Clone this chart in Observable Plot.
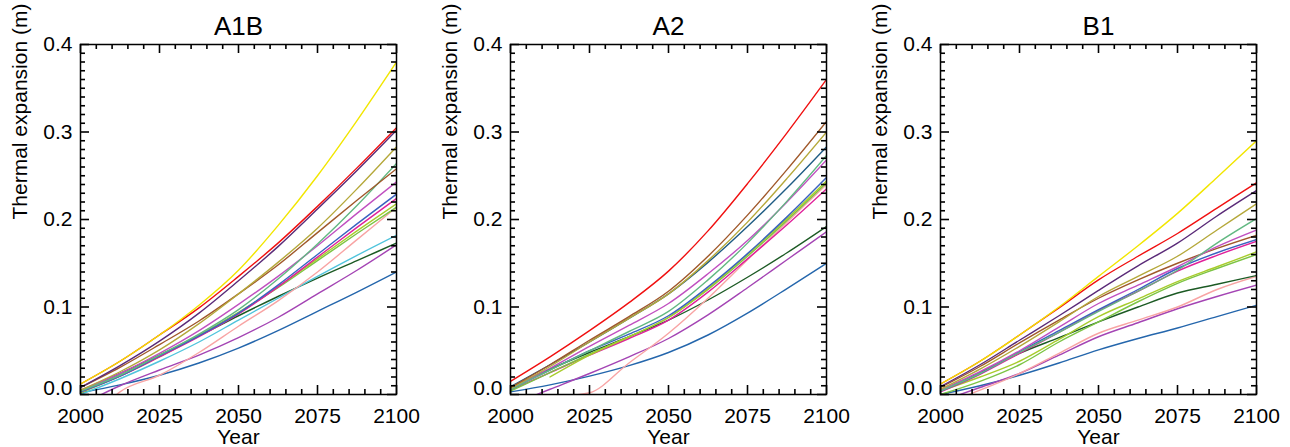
<!DOCTYPE html>
<html>
<head>
<meta charset="utf-8">
<script src="https://cdn.jsdelivr.net/npm/d3@7"></script>
<script src="https://cdn.jsdelivr.net/npm/@observablehq/plot@0.6"></script>
<style>
  html, body { margin: 0; padding: 0; background: white; overflow: hidden; }
  #row { display: flex; width: 1290px; height: 447px; }
  .panel { position: relative; width: 430px; height: 447px; }
  .panel svg { display: block; position: absolute; left: 0; top: 0; }
</style>
</head>
<body>
<div id="row"></div>
<script>
// ---- data ----
const years = [2000, 2012.5, 2025, 2037.5, 2050, 2062.5, 2075, 2087.5, 2100];
const xDomain = [2000, 2100];
const yDomain = [0, 0.4];
const xTickLabels = [2000, 2025, 2050, 2075, 2100];
const yTickLabels = [0.1, 0.2, 0.3, 0.4];
const yZeroLabel = [0];
const xMinorTicks = [2005, 2010, 2015, 2020, 2030, 2035, 2040, 2045, 2055, 2060, 2065, 2070, 2080, 2085, 2090, 2095];
const yMinorTicks = [0.01, 0.02, 0.03, 0.04, 0.05, 0.06, 0.07, 0.08, 0.09,
  0.11, 0.12, 0.13, 0.14, 0.15, 0.16, 0.17, 0.18, 0.19,
  0.21, 0.22, 0.23, 0.24, 0.25, 0.26, 0.27, 0.28, 0.29,
  0.31, 0.32, 0.33, 0.34, 0.35, 0.36, 0.37, 0.38, 0.39];
const yMajorTicks = [0, 0.1, 0.2, 0.3, 0.4];

const modelColors = {
  yellow: "#f2e600", red: "#f01010", darkpurple: "#5a2a78", olive: "#b5a83a",
  brown: "#a0582a", seagreen: "#62b882", orchid: "#c050c0", blue: "#3a62c0",
  magenta: "#e0209a", yellowgreen: "#a8cc2c", lightgreen: "#7cc444", pink: "#f8a4a4",
  cyan: "#50c4dc", darkgreen: "#1c5a24", purple: "#a444b4", steelblue: "#2466ac",
  teal: "#1f5c84"
};

const a1bModels = ["steelblue","purple","darkgreen","cyan","pink","lightgreen","yellowgreen","magenta","blue","orchid","seagreen","brown","olive","darkpurple","red","yellow"];
const a1bValues = [
  [0.002, 0.011, 0.022, 0.036, 0.053, 0.073, 0.095, 0.117, 0.140],
  [-0.012, 0.010, 0.028, 0.045, 0.065, 0.088, 0.115, 0.142, 0.171],
  [0.004, 0.024, 0.045, 0.067, 0.090, 0.112, 0.133, 0.153, 0.173],
  [0.000, 0.018, 0.038, 0.060, 0.085, 0.110, 0.135, 0.159, 0.182],
  [-0.045, 0.003, 0.022, 0.048, 0.078, 0.107, 0.140, 0.177, 0.214],
  [0.003, 0.022, 0.045, 0.068, 0.094, 0.122, 0.153, 0.184, 0.214],
  [0.002, 0.021, 0.043, 0.067, 0.093, 0.123, 0.155, 0.187, 0.218],
  [0.003, 0.021, 0.043, 0.066, 0.092, 0.123, 0.157, 0.191, 0.224],
  [0.003, 0.021, 0.044, 0.067, 0.093, 0.125, 0.160, 0.195, 0.229],
  [0.005, 0.024, 0.047, 0.073, 0.103, 0.135, 0.170, 0.207, 0.243],
  [0.004, 0.022, 0.045, 0.069, 0.097, 0.132, 0.172, 0.216, 0.264],
  [0.008, 0.031, 0.057, 0.084, 0.115, 0.148, 0.185, 0.222, 0.258],
  [0.005, 0.026, 0.051, 0.081, 0.115, 0.151, 0.190, 0.235, 0.283],
  [0.008, 0.033, 0.061, 0.093, 0.130, 0.169, 0.212, 0.256, 0.302],
  [0.012, 0.038, 0.068, 0.099, 0.135, 0.173, 0.215, 0.259, 0.305],
  [0.012, 0.038, 0.068, 0.102, 0.142, 0.193, 0.250, 0.313, 0.380]
];

const a2Models = ["steelblue","purple","darkgreen","pink","magenta","lightgreen","yellowgreen","blue","orchid","seagreen","teal","olive","brown","red"];
const a2Values = [
  [0.003, 0.011, 0.021, 0.033, 0.048, 0.068, 0.093, 0.121, 0.150],
  [-0.012, 0.006, 0.024, 0.043, 0.064, 0.091, 0.122, 0.154, 0.186],
  [0.008, 0.029, 0.048, 0.066, 0.085, 0.108, 0.134, 0.162, 0.192],
  [-0.045, -0.004, 0.002, 0.036, 0.070, 0.110, 0.154, 0.197, 0.240],
  [0.005, 0.025, 0.045, 0.064, 0.085, 0.117, 0.155, 0.194, 0.235],
  [0.004, 0.025, 0.046, 0.066, 0.088, 0.120, 0.158, 0.199, 0.242],
  [null, 0.020, 0.045, 0.066, 0.088, 0.121, 0.160, 0.201, 0.244],
  [0.006, 0.028, 0.050, 0.069, 0.090, 0.123, 0.161, 0.203, 0.248],
  [0.007, 0.030, 0.055, 0.079, 0.104, 0.138, 0.176, 0.220, 0.268],
  [0.006, 0.028, 0.050, 0.072, 0.095, 0.131, 0.173, 0.221, 0.273],
  [0.009, 0.034, 0.060, 0.087, 0.115, 0.151, 0.192, 0.236, 0.283],
  [0.007, 0.032, 0.060, 0.087, 0.115, 0.153, 0.197, 0.247, 0.300],
  [0.008, 0.034, 0.062, 0.089, 0.118, 0.158, 0.205, 0.257, 0.312],
  [0.015, 0.043, 0.073, 0.105, 0.141, 0.187, 0.241, 0.299, 0.360]
];

const b1Models = ["steelblue","purple","pink","darkgreen","lightgreen","yellowgreen","magenta","blue","brown","orchid","seagreen","olive","darkpurple","red","yellow"];
const b1Values = [
  [0.000, 0.010, 0.022, 0.036, 0.051, 0.064, 0.076, 0.089, 0.102],
  [-0.008, 0.008, 0.024, 0.045, 0.066, 0.082, 0.098, 0.112, 0.125],
  [-0.012, 0.005, 0.024, 0.047, 0.070, 0.085, 0.100, 0.120, 0.135],
  [0.004, 0.025, 0.047, 0.065, 0.083, 0.100, 0.116, 0.126, 0.136],
  [0.000, 0.015, 0.034, 0.060, 0.083, 0.106, 0.127, 0.144, 0.160],
  [0.004, 0.020, 0.038, 0.063, 0.089, 0.109, 0.129, 0.146, 0.163],
  [0.003, 0.023, 0.047, 0.071, 0.096, 0.118, 0.141, 0.159, 0.175],
  [0.004, 0.024, 0.049, 0.073, 0.097, 0.120, 0.144, 0.162, 0.177],
  [0.008, 0.032, 0.059, 0.085, 0.110, 0.131, 0.150, 0.167, 0.182],
  [0.005, 0.026, 0.050, 0.077, 0.104, 0.125, 0.146, 0.169, 0.188],
  [0.004, 0.024, 0.048, 0.071, 0.095, 0.118, 0.142, 0.173, 0.201],
  [0.006, 0.029, 0.055, 0.083, 0.112, 0.135, 0.158, 0.188, 0.218],
  [0.009, 0.034, 0.062, 0.090, 0.119, 0.147, 0.173, 0.204, 0.233],
  [0.012, 0.038, 0.068, 0.099, 0.131, 0.158, 0.184, 0.213, 0.242],
  [0.012, 0.038, 0.068, 0.100, 0.135, 0.170, 0.207, 0.248, 0.290]
];

// ---- drawing ----
const FONT = "'Liberation Sans', Arial, Helvetica, sans-serif";
const frameDims = {width: 430, height: 447, marginLeft: 80, marginRight: 34, marginTop: 44, marginBottom: 53};

function inwardTicks(xs, ys, len) {
  const s = {stroke: "black", strokeWidth: 1.6};
  return [
    Plot.ruleX(xs, {x: d => d, y1: yDomain[0], y2: yDomain[0], insetTop: -len, ...s}),
    Plot.ruleX(xs, {x: d => d, y1: yDomain[1], y2: yDomain[1], insetBottom: -len, ...s}),
    Plot.ruleY(ys, {y: d => d, x1: xDomain[0], x2: xDomain[0], insetRight: -len, ...s}),
    Plot.ruleY(ys, {y: d => d, x1: xDomain[1], x2: xDomain[1], insetLeft: -len, ...s})
  ];
}

function panel(title, models, values) {
  const rows = models.flatMap((m, i) =>
    years.map((yr, j) => ({model: m, year: yr, value: values[i][j]})));
  const main = Plot.plot({
    ...frameDims,
    x: {domain: xDomain, axis: null},
    y: {domain: yDomain, axis: null},
    style: {fontFamily: FONT, fontSize: "21px", color: "black", background: "white"},
    marks: [
      Plot.line(rows, {x: "year", y: "value", z: "model", stroke: d => modelColors[d.model],
        strokeWidth: 1.4, curve: "monotone-x", clip: true}),
      Plot.axisX({ticks: xTickLabels, anchor: "bottom", tickSize: 0, tickPadding: 14, tickFormat: d => String(d), label: null, fontSize: 21}),
      Plot.axisY({ticks: yTickLabels, anchor: "left", tickSize: 0, tickPadding: 8, tickFormat: d3.format(".1f"), label: null, fontSize: 21}),
      Plot.axisY({ticks: yZeroLabel, anchor: "left", tickSize: 0, tickPadding: 8, tickFormat: d3.format(".1f"), label: null, fontSize: 21, dy: -6}),
      Plot.text([title], {frameAnchor: "top", dy: -18, lineAnchor: "middle", fontSize: 26, fill: "black"}),
      Plot.text(["Year"], {frameAnchor: "bottom", dy: 43, lineAnchor: "middle", fontSize: 21, fill: "black"}),
      Plot.text(["Thermal expansion (m)"], {frameAnchor: "left", dx: -60, rotate: -90, lineAnchor: "middle", fontSize: 21, fill: "black"})
    ]
  });
  const overlay = Plot.plot({
    ...frameDims,
    x: {domain: xDomain, axis: null},
    y: {domain: yDomain, axis: null},
    style: {background: "none", color: "black"},
    marks: [
      Plot.frame({stroke: "black", strokeWidth: 1.5}),
      ...inwardTicks(xMinorTicks, yMinorTicks, 5),
      ...inwardTicks(xTickLabels, yMajorTicks, 9)
    ]
  });
  const wrap = document.createElement("div");
  wrap.className = "panel";
  wrap.appendChild(main);
  wrap.appendChild(overlay);
  return wrap;
}

const row = document.getElementById("row");
row.appendChild(panel("A1B", a1bModels, a1bValues));
row.appendChild(panel("A2", a2Models, a2Values));
row.appendChild(panel("B1", b1Models, b1Values));
</script>
</body>
</html>
